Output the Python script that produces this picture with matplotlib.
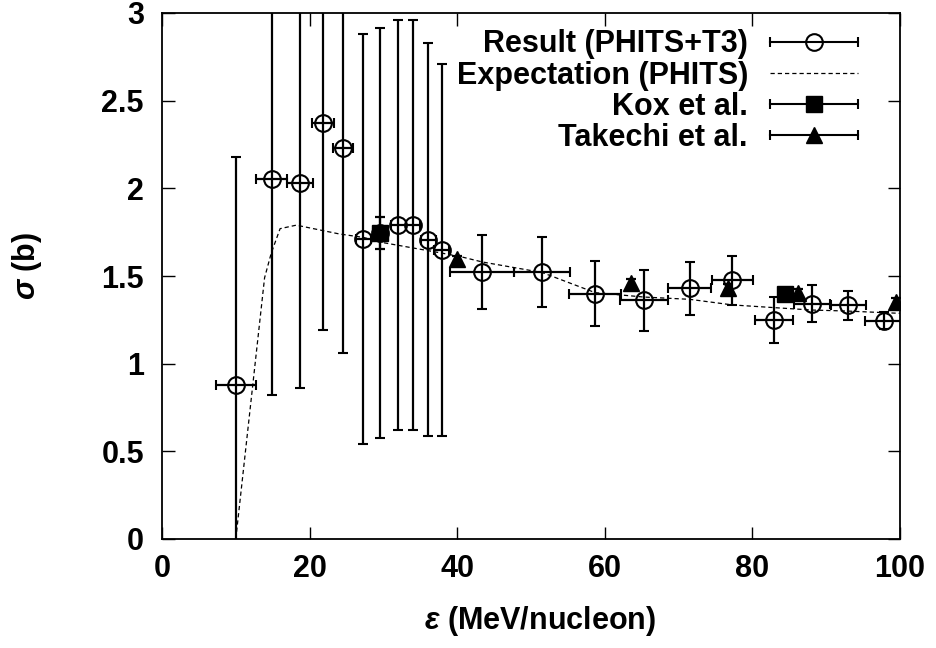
import matplotlib
matplotlib.use("Agg")
import matplotlib.pyplot as plt
from matplotlib.legend_handler import HandlerBase
from matplotlib.lines import Line2D

plt.rcParams['font.family'] = ['Liberation Sans', 'DejaVu Sans']
plt.rcParams['font.weight'] = 'bold'
plt.rcParams['mathtext.fontset'] = 'custom'
plt.rcParams['mathtext.it'] = 'Liberation Sans:italic:bold'
plt.rcParams['mathtext.rm'] = 'Liberation Sans:bold'

# ---------------- data ----------------
res_x = [10.0, 14.9, 18.7, 21.8, 24.5, 27.3, 29.6, 32.0, 34.0, 36.1, 37.9,
         43.4, 51.5, 58.7, 65.3, 71.5, 77.3, 82.9, 88.1, 93.0, 97.8]
res_y = [0.88, 2.055, 2.03, 2.37, 2.23, 1.713, 1.745, 1.79, 1.79, 1.707, 1.65,
         1.523, 1.523, 1.40, 1.361, 1.43, 1.475, 1.25, 1.342, 1.332, 1.245]
res_xerr = [2.7, 2.1, 1.7, 1.5, 1.35, 1.0, 1.0, 1.0, 1.0, 1.0, 1.0,
            4.35, 3.8, 3.5, 3.2, 2.9, 2.8, 2.6, 2.45, 2.4, 2.5]
res_yerr = [1.30, 1.235, 1.17, 1.18, 1.17, 1.17, 1.17, 1.17, 1.17, 1.12, 1.06,
            0.21, 0.20, 0.185, 0.176, 0.152, 0.14, 0.13, 0.105, 0.083, 0.05]

exp_x = [10.0, 13.9, 14.8, 16.0, 18.2, 24.0, 27.3, 30.0, 34.0, 38.0, 40.5,
         43.4, 51.5, 58.7, 65.3, 71.5, 77.3, 82.8, 88.0, 92.9, 100.0]
exp_y = [0.0, 1.49, 1.63, 1.77, 1.79, 1.74, 1.72, 1.69, 1.66, 1.63, 1.61,
         1.58, 1.52, 1.405, 1.38, 1.367, 1.335, 1.32, 1.306, 1.30, 1.287]

kox_x = [29.6, 84.4]
kox_y = [1.745, 1.398]
kox_yerr = [0.09, 0.02]

tak_x = [40.0, 63.5, 76.7, 86.2, 99.4]
tak_y = [1.595, 1.462, 1.433, 1.404, 1.352]
tak_yerr = [0.02, 0.02, 0.02, 0.02, 0.02]

xticks = [0, 20, 40, 60, 80, 100]
xtick_labels = ['0', '20', '40', '60', '80', '100']
yticks = [0, 0.5, 1, 1.5, 2, 2.5, 3]
ytick_labels = ['0', '0.5', '1', '1.5', '2', '2.5', '3']

labels = ['Result (PHITS+T3)', 'Expectation (PHITS)', 'Kox et al.', 'Takechi et al.']

# ---------------- figure ----------------
FS = 22
fig = plt.figure(figsize=(9.36, 6.48), dpi=100)
ax = fig.add_axes([162 / 936, 1 - 539 / 648, (900 - 162) / 936, (539 - 13) / 648])

ln_exp, = ax.plot(exp_x, exp_y, color='black', lw=0.9, ls=(0, (3.4, 2.4)),
                  label=labels[1], zorder=2)

eb_res = ax.errorbar(res_x, res_y, xerr=res_xerr, yerr=res_yerr, fmt='o',
                     mfc='none', mec='black', ms=12, mew=1.5, color='black',
                     ecolor='black', elinewidth=1.6, capsize=3.3, capthick=1.6,
                     label=labels[0], zorder=3)
eb_kox = ax.errorbar(kox_x, kox_y, yerr=kox_yerr, fmt='s', ms=11, color='black',
                     ecolor='black', elinewidth=1.6, capsize=3.3, capthick=1.6,
                     label=labels[2], zorder=4)
eb_tak = ax.errorbar(tak_x, tak_y, yerr=tak_yerr, fmt='^', ms=11, color='black',
                     ecolor='black', elinewidth=1.6, capsize=3.3, capthick=1.6,
                     label=labels[3], zorder=4)

ax.set_xlim(0, 100)
ax.set_ylim(0, 3)
ax.set_xticks(xticks)
ax.set_xticklabels(xtick_labels)
ax.set_yticks(yticks)
ax.set_yticklabels(ytick_labels)
ax.tick_params(direction='in', length=9, width=1, top=True, right=True,
               labelsize=FS)
ax.tick_params(axis='x', pad=11)
ax.tick_params(axis='y', pad=13)
for s in ax.spines.values():
    s.set_linewidth(1.3)

ax.set_xlabel(r'$\varepsilon$ (MeV/nucleon)', fontsize=FS, fontweight='bold')
ax.set_ylabel(r'$\sigma$ (b)', fontsize=FS, fontweight='bold')
ax.xaxis.set_label_coords(0.512, -0.124)
ax.yaxis.set_label_coords(-0.16, 0.52)


class GnuErrHandler(HandlerBase):
    def create_artists(self, legend, orig_handle, xdescent, ydescent,
                       width, height, fontsize, trans):
        mline = orig_handle.lines[0]
        y = height / 2 - ydescent
        x0 = -xdescent
        x1 = -xdescent + width
        bar = Line2D([x0, x1], [y, y], color='black', lw=1.5)
        caps = Line2D([x0, x1], [y, y], ls='none', marker='|', ms=6.6,
                      mew=1.5, color='black')
        mk = Line2D([(x0 + x1) / 2], [y], ls='none',
                    marker=mline.get_marker(), ms=mline.get_markersize(),
                    mfc=mline.get_markerfacecolor(),
                    mec=mline.get_markeredgecolor(),
                    mew=mline.get_markeredgewidth())
        mk.set_zorder(3)
        arts = [bar, caps, mk]
        for a in arts:
            a.set_transform(trans)
        return arts


h = GnuErrHandler()
leg = ax.legend([eb_res, ln_exp, eb_kox, eb_tak], labels,
                handler_map={type(eb_res): h},
                loc='upper right', bbox_to_anchor=(0.943, 0.969),
                frameon=False, prop={'size': FS, 'weight': 'bold'},
                markerfirst=False,
                handlelength=2.88, handletextpad=0.72, labelspacing=0.04,
                borderpad=0, borderaxespad=0)

fig.savefig('out.png', dpi=100)
